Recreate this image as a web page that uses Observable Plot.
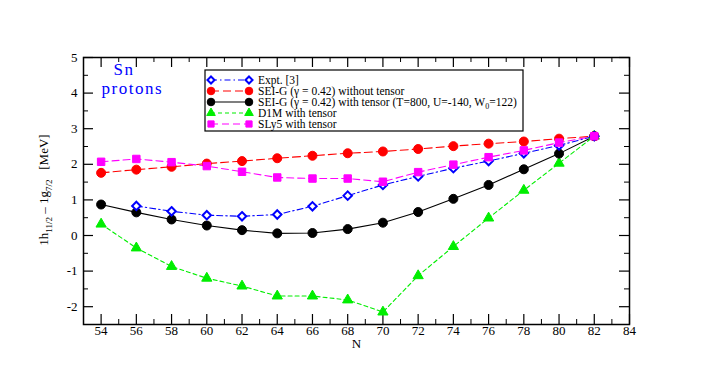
<!DOCTYPE html>
<html>
<head>
<meta charset="utf-8">
<script src="https://cdn.jsdelivr.net/npm/d3@7"></script>
<script src="https://cdn.jsdelivr.net/npm/@observablehq/plot@0.6"></script>
<style>
  html, body { margin: 0; padding: 0; background: white; }
  #chart { position: relative; width: 708px; height: 382px; }
</style>
</head>
<body>
<div id="chart"></div>
<script>
// ---- data ----
const N = [54, 56, 58, 60, 62, 64, 66, 68, 70, 72, 74, 76, 78, 80, 82];
const expt      = [null, 0.83, 0.68, 0.57, 0.54, 0.59, 0.82, 1.12, 1.42, 1.66, 1.89, 2.09, 2.31, 2.53, 2.79];
const seiNoTens = [1.76, 1.85, 1.93, 2.02, 2.09, 2.17, 2.24, 2.31, 2.36, 2.43, 2.51, 2.58, 2.64, 2.72, 2.79];
const seiTens   = [0.87, 0.65, 0.45, 0.28, 0.15, 0.06, 0.07, 0.18, 0.36, 0.66, 1.03, 1.42, 1.86, 2.30, 2.79];
const d1m       = [0.32, -0.35, -0.87, -1.20, -1.42, -1.70, -1.70, -1.81, -2.15, -1.13, -0.31, 0.49, 1.27, 2.03, 2.79];
const sly5      = [2.07, 2.15, 2.06, 1.95, 1.79, 1.63, 1.60, 1.60, 1.51, 1.78, 1.99, 2.20, 2.39, 2.61, 2.79];

const seriesNames = [
  "Expt. [3]",
  "SEI-G (\u03b3 = 0.42) without tensor",
  "SEI-G (\u03b3 = 0.42) with tensor (T=800, U=-140, W0=122)",
  "D1M with tensor",
  "SLy5 with tensor"
];
const xMajorTicks = d3.range(54, 85, 2);
const xMinorTicks = d3.range(53, 84, 2);
const yMajorTicks = d3.range(-2, 6, 1);
const yMinorTicks = d3.range(-2.5, 5, 1);
const xDomain = [53, 84];
const yDomain = [-2.5, 5];

// ---- styles ----
const styles = [
  {color: "#0000ff", dash: "6,3,1.5,3", symbol: "diamond2", fill: "white", r: 3.8, lr: 3.2, sw: 2},
  {color: "#ff0000", dash: "8,4", symbol: "circle", fill: "#ff0000", r: 4.5, lr: 3.8, sw: 1},
  {color: "#000000", dash: null, symbol: "circle", fill: "#000000", r: 4.5, lr: 3.8, sw: 1},
  {color: "#00ee00", dash: "4,3", symbol: "triangle", fill: "#00ee00", r: 3.8, lr: 3.2, sw: 1},
  {color: "#ff00ff", dash: "7,4", symbol: "square", fill: "#ff00ff", r: 4.2, lr: 3.5, sw: 1}
];
const values = [expt, seiNoTens, seiTens, d1m, sly5];
const series = values.map((vals, i) =>
  N.map((n, j) => ({N: n, v: vals[j], s: seriesNames[i]})).filter(d => d.v != null)
);

const W = 708, H = 382, mL = 83, mR = 79, mT = 57, mB = 58;
const plotW = W - mL - mR, plotH = H - mT - mB;
const font = "'Liberation Serif', 'DejaVu Serif', serif";

const drawOrder = [3, 2, 1, 0, 4];
const dataMarks = [];
for (const i of drawOrder) {
  const st = styles[i];
  dataMarks.push(Plot.line(series[i], {x: "N", y: "v", stroke: st.color, strokeWidth: 1.1,
    strokeDasharray: st.dash || undefined}));
}
for (const i of drawOrder) {
  const st = styles[i];
  dataMarks.push(Plot.dot(series[i], {x: "N", y: "v", symbol: () => st.symbol, r: st.r,
    fill: st.fill, stroke: st.color, strokeWidth: st.sw}));
}

const chart = Plot.plot({
  width: W, height: H,
  marginLeft: mL, marginRight: mR, marginTop: mT, marginBottom: mB,
  style: {fontFamily: font, background: "white", overflow: "visible"},
  symbol: {type: "identity"},
  x: {domain: xDomain, label: null},
  y: {domain: yDomain, label: null},
  marks: [
    // inward ticks
    Plot.tickX(xMajorTicks, {x: d => d, stroke: "black", strokeWidth: 1.2, insetTop: plotH - 10}),
    Plot.tickX(xMinorTicks, {x: d => d, stroke: "black", strokeWidth: 1, insetTop: plotH - 5}),
    Plot.tickX(xMajorTicks, {x: d => d, stroke: "black", strokeWidth: 1.2, insetBottom: plotH - 10}),
    Plot.tickX(xMinorTicks, {x: d => d, stroke: "black", strokeWidth: 1, insetBottom: plotH - 5}),
    Plot.tickY(yMajorTicks, {y: d => d, stroke: "black", strokeWidth: 1.2, insetRight: plotW - 10}),
    Plot.tickY(yMinorTicks, {y: d => d, stroke: "black", strokeWidth: 1, insetRight: plotW - 5}),
    Plot.tickY(yMajorTicks, {y: d => d, stroke: "black", strokeWidth: 1.2, insetLeft: plotW - 10}),
    Plot.tickY(yMinorTicks, {y: d => d, stroke: "black", strokeWidth: 1, insetLeft: plotW - 5}),
    Plot.axisX({ticks: xMajorTicks, tickSize: 0, tickPadding: 1, fontSize: 13, label: null, tickFormat: d => d}),
    Plot.axisY({ticks: yMajorTicks, tickSize: 0, tickPadding: 6, fontSize: 13, label: null, tickFormat: d => d}),
    ...dataMarks,
    Plot.frame({stroke: "black", strokeWidth: 1.5}),
    Plot.text(["N"], {frameAnchor: "bottom", dy: 23, fontSize: 13, fill: "black"}),
    Plot.text(["Sn"], {frameAnchor: "top-left", dx: 30, dy: 5, fontSize: 17, fill: "#0000ff", textAnchor: "start"}),
    Plot.text(["protons"], {frameAnchor: "top-left", dx: 18, dy: 24, fontSize: 17, fill: "#0000ff", textAnchor: "start"})
  ]
});

document.getElementById("chart").appendChild(chart);

const svg = d3.select(chart);
svg.selectAll("text").filter(function() { return this.textContent === "protons" || this.textContent === "Sn"; })
  .attr("letter-spacing", 1.5);

// y-axis label with subscripts
const yl = svg.append("text")
  .attr("transform", "translate(48,190) rotate(-90)")
  .attr("text-anchor", "middle")
  .attr("font-family", font)
  .attr("font-size", 13)
  .attr("fill", "black");
yl.append("tspan").text("1h");
yl.append("tspan").attr("font-size", 9).attr("dy", 4).text("11/2");
yl.append("tspan").attr("dy", -4).text(" \u2013 1g");
yl.append("tspan").attr("font-size", 9).attr("dy", 4).text("7/2");
yl.append("tspan").attr("dy", -4).text("   [MeV]");

// legend
const lg = svg.append("g");
const bx = 205, by = 70, bw = 318, bh = 61;
lg.append("rect").attr("x", bx).attr("y", by).attr("width", bw).attr("height", bh)
  .attr("fill", "white").attr("stroke", "black").attr("stroke-width", 1.2);
const symMap = {circle: d3.symbolCircle, square: d3.symbolSquare, triangle: d3.symbolTriangle, diamond2: d3.symbolDiamond2};
seriesNames.forEach((name, i) => {
  const st = styles[i];
  const yy = by + 10 + i * 11;
  const x1 = bx + 6, x2 = bx + 44;
  lg.append("line").attr("x1", x1).attr("x2", x2).attr("y1", yy).attr("y2", yy)
    .attr("stroke", st.color).attr("stroke-width", 1.1)
    .attr("stroke-dasharray", st.dash || null);
  const sz = Math.PI * st.lr * st.lr;
  for (const xx of [x1, x2]) {
    lg.append("path").attr("d", d3.symbol(symMap[st.symbol], sz)())
      .attr("transform", `translate(${xx},${yy})`)
      .attr("fill", st.fill).attr("stroke", st.color).attr("stroke-width", st.sw);
  }
  const t = lg.append("text").attr("x", bx + 53).attr("y", yy + 3.5)
    .attr("text-anchor", "start")
    .attr("font-family", font).attr("font-size", 11.5).attr("fill", "black");
  if (i === 2) {
    t.append("tspan").text("SEI-G (\u03b3 = 0.42) with tensor (T=800, U=-140, W");
    t.append("tspan").attr("font-size", 8).attr("dy", 3).text("0");
    t.append("tspan").attr("dy", -3).text("=122)");
  } else {
    t.text(name);
  }
});
</script>
</body>
</html>
